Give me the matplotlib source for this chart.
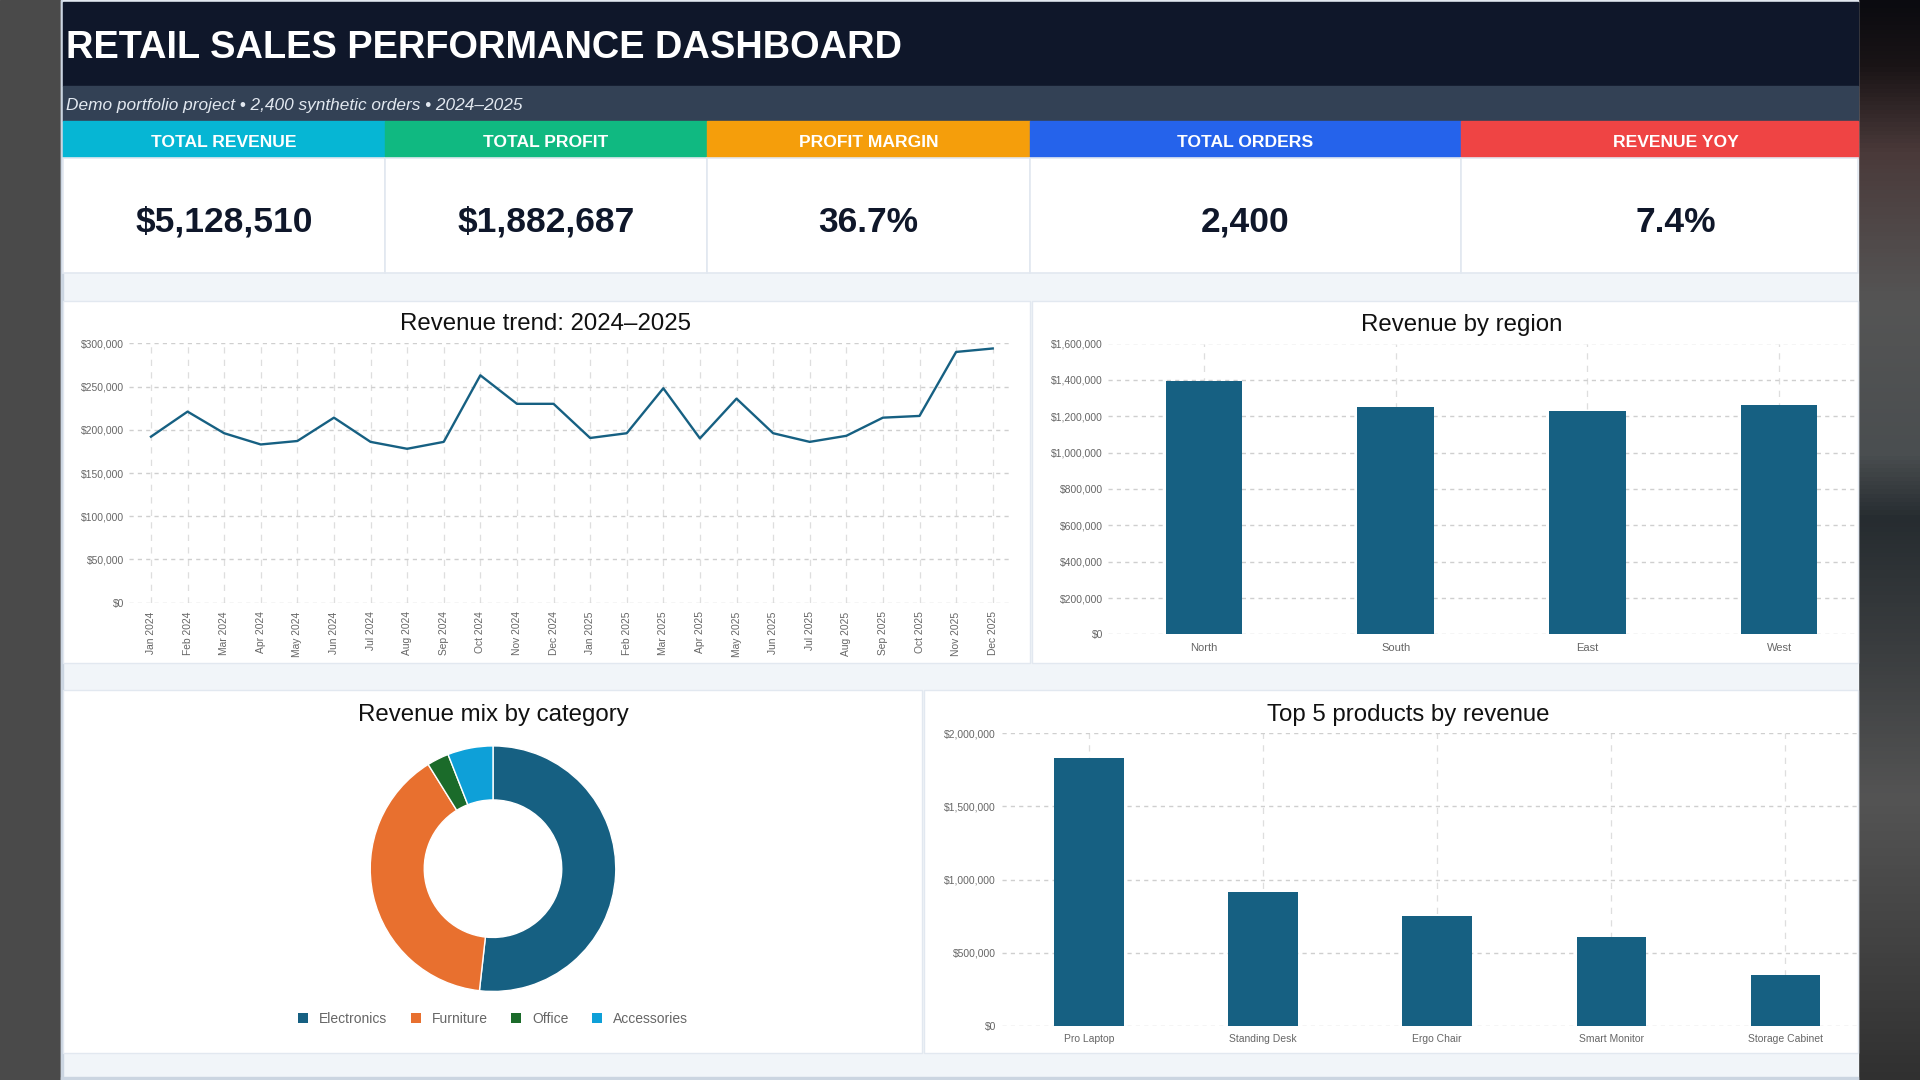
import numpy as np
import matplotlib
matplotlib.use("Agg")
import matplotlib.pyplot as plt
from matplotlib.patches import Rectangle, Patch
from matplotlib.colors import LinearSegmentedColormap
from matplotlib.ticker import FuncFormatter, MultipleLocator

plt.rcParams['font.family'] = ['Liberation Sans', 'DejaVu Sans']

# ---- data ----
kpi_labels = ["TOTAL REVENUE", "TOTAL PROFIT", "PROFIT MARGIN", "TOTAL ORDERS", "REVENUE YOY"]
kpi_values = ["$5,128,510", "$1,882,687", "36.7%", "2,400", "7.4%"]

months = ["Jan 2024", "Feb 2024", "Mar 2024", "Apr 2024", "May 2024", "Jun 2024",
          "Jul 2024", "Aug 2024", "Sep 2024", "Oct 2024", "Nov 2024", "Dec 2024",
          "Jan 2025", "Feb 2025", "Mar 2025", "Apr 2025", "May 2025", "Jun 2025",
          "Jul 2025", "Aug 2025", "Sep 2025", "Oct 2025", "Nov 2025", "Dec 2025"]
monthly_revenue = [192000, 221000, 196000, 183000, 187000, 214000,
                   186000, 178000, 186000, 263000, 230000, 230000,
                   190500, 196000, 248000, 190000, 236000, 196000,
                   186000, 193000, 214000, 216000, 290000, 294000]

regions = ["North", "South", "East", "West"]
region_revenue = [1392000, 1248000, 1226000, 1262000]

categories = ["Electronics", "Furniture", "Office", "Accessories"]
category_revenue = [2655000, 2020000, 148000, 306000]

products = ["Pro Laptop", "Standing Desk", "Ergo Chair", "Smart Monitor", "Storage Cabinet"]
product_revenue = [1833000, 914000, 750000, 609000, 344000]

# ---- styling ----
W, H = 1920, 1080
BLUE = "#166082"
KPI_COLORS = ["#06b6d4", "#10b981", "#f59e0b", "#2563eb", "#ef4444"]
CAT_COLORS = ["#166082", "#e8702f", "#1b6b2a", "#0ea0d8"]
TICK_GRAY = "#666666"


def box(x0, y0, x1, y1):
    # pixel box (top-left origin) -> figure rect
    return [x0 / W, 1 - y1 / H, (x1 - x0) / W, (y1 - y0) / H]


def dollars(v, pos):
    return f"${v:,.0f}"


def style_axes(ax, ystep, xpad, ypad, xsize):
    ax.yaxis.set_major_locator(MultipleLocator(ystep))
    ax.yaxis.set_major_formatter(FuncFormatter(dollars))
    ax.tick_params(axis='both', length=0, labelcolor=TICK_GRAY)
    ax.tick_params(axis='y', labelsize=7.5, pad=ypad)
    ax.tick_params(axis='x', labelsize=xsize, pad=xpad)
    ax.grid(axis='y', linestyle=(0, (3, 3)), color='#cfcfcf', lw=1)
    ax.grid(axis='x', linestyle=(0, (5, 5)), color='#dedede', lw=0.9)
    ax.set_axisbelow(True)
    for s in ax.spines.values():
        s.set_visible(False)


fig = plt.figure(figsize=(19.2, 10.8), dpi=100)
bg = fig.add_axes([0, 0, 1, 1])
bg.set_xlim(0, W)
bg.set_ylim(H, 0)
bg.axis('off')

# surroundings (screenshot frame)
bg.add_patch(Rectangle((0, 0), 62, H, color="#4a4a4a", zorder=0))
frame_cmap = LinearSegmentedColormap.from_list("frame", [
    (0.0, "#0b0b10"), (0.06, "#1a1416"), (0.14, "#4a3a3a"), (0.28, "#555555"),
    (0.42, "#4a4e50"), (0.48, "#262c30"), (0.6, "#3a3d3f"), (0.74, "#545454"),
    (0.92, "#3c3c3c"), (1.0, "#303030")])
bg.imshow(np.linspace(0, 1, 256).reshape(-1, 1), cmap=frame_cmap, aspect='auto',
          extent=[1858, W, H, 0], zorder=0)

# dashboard canvas
bg.add_patch(Rectangle((61, 0), 1797, H, color="#f1f5f9", zorder=1))
bg.add_patch(Rectangle((61, 0), 2, H, color="#cbd5e1", zorder=2))
bg.add_patch(Rectangle((61, 1077), 1797, 3, color="#cbd5e1", zorder=2))
bg.add_patch(Rectangle((63, 0), 1795, 2, color="#e2e8f0", zorder=2))

# header + subtitle bars
bg.add_patch(Rectangle((63, 2), 1795, 84, color="#0f172a", zorder=2))
bg.add_patch(Rectangle((63, 86), 1795, 35, color="#334155", zorder=2))
bg.text(66, 58, "RETAIL SALES PERFORMANCE DASHBOARD", color="white", fontsize=27.4,
        fontweight='bold', va='baseline', ha='left', zorder=3)
bg.text(66, 110, "Demo portfolio project \u2022 2,400 synthetic orders \u2022 2024\u20132025",
        color="#e2e8f0", fontsize=12.4, style='italic', va='baseline', ha='left', zorder=3)

# KPI cards (the last card runs past the visible edge, so its text sits off-centre)
edges = [63, 385, 707, 1030, 1461, 1858]
text_x = [224, 546, 868.5, 1245.5, 1676]
for i in range(len(kpi_labels)):
    x0, x1 = edges[i], edges[i + 1]
    bg.add_patch(Rectangle((x0, 121), x1 - x0, 37, color=KPI_COLORS[i], zorder=2))
    bg.add_patch(Rectangle((x0, 158), x1 - x0, 115, facecolor="white",
                           edgecolor="#e2e8f0", lw=1.2, zorder=2))
    bg.text(text_x[i], 142.5, kpi_labels[i], color="white", fontsize=12.6, fontweight='bold',
            ha='center', va='center', zorder=3)
    bg.text(text_x[i], 222, kpi_values[i], color="#0f172a", fontsize=25.5, fontweight='bold',
            ha='center', va='center', zorder=3)

# chart panels
for (x0, y0, x1, y1) in [(63, 301, 1030, 663), (1032, 301, 1858, 663),
                         (63, 690, 922, 1053), (924, 690, 1858, 1053)]:
    bg.add_patch(Rectangle((x0, y0), x1 - x0, y1 - y0, facecolor="white",
                           edgecolor="#e2e8f0", lw=1, zorder=2))

title_kw = dict(fontsize=17.3, color="#111111", ha='center', va='baseline', zorder=3)
bg.text(546, 330.5, "Revenue trend: 2024\u20132025", **title_kw)
bg.text(1462, 330.5, "Revenue by region", **title_kw)
bg.text(493, 720.5, "Revenue mix by category", **title_kw)
bg.text(1408, 720.5, "Top 5 products by revenue", **title_kw)

# revenue trend
ax1 = fig.add_axes(box(129, 343.3, 1011, 602.7))
ax1.patch.set_alpha(0)
ax1.plot(range(len(months)), monthly_revenue, color=BLUE, lw=1.7, zorder=3)
ax1.set_xlim(-0.6, 23.5)
ax1.set_ylim(0, 300000)
ax1.set_xticks(range(len(months)))
ax1.set_xticklabels(months, rotation=90)
style_axes(ax1, 50000, xpad=6.3, ypad=3.3, xsize=7.4)

# revenue by region
ax2 = fig.add_axes(box(1108, 343.5, 1857, 634.4))
ax2.patch.set_alpha(0)
ax2.bar(range(len(regions)), region_revenue, width=0.4, color=BLUE, zorder=3)
ax2.set_xlim(-0.5, 3.406)
ax2.set_ylim(0, 1600000)
ax2.set_xticks(range(len(regions)))
ax2.set_xticklabels(regions)
style_axes(ax2, 200000, xpad=6.2, ypad=3.6, xsize=8)

# revenue mix donut
ax3 = fig.add_axes(box(369, 744.7, 617, 992.7))
ax3.pie(category_revenue, colors=CAT_COLORS, startangle=90, counterclock=False,
        radius=1, wedgeprops=dict(width=0.44, edgecolor='white', linewidth=1))
ax3.set_xlim(-1.01, 1.01)
ax3.set_ylim(-1.01, 1.01)
handles = [Patch(facecolor=c, label=n) for c, n in zip(CAT_COLORS, categories)]
bg.legend(handles=handles, loc='center', bbox_to_anchor=(493, 1019),
          bbox_transform=bg.transData, ncol=4, frameon=False, fontsize=10,
          handlelength=0.72, handleheight=0.72, handletextpad=0.8,
          columnspacing=1.7, labelcolor=TICK_GRAY)

# top 5 products
ax4 = fig.add_axes(box(1002, 733.3, 1857, 1025.7))
ax4.patch.set_alpha(0)
ax4.bar(range(len(products)), product_revenue, width=0.4, color=BLUE, zorder=3)
ax4.set_xlim(-0.5, 4.411)
ax4.set_ylim(0, 2000000)
ax4.set_xticks(range(len(products)))
ax4.set_xticklabels(products)
style_axes(ax4, 500000, xpad=5.8, ypad=4.3, xsize=7.5)

fig.savefig("out.png", dpi=100)
